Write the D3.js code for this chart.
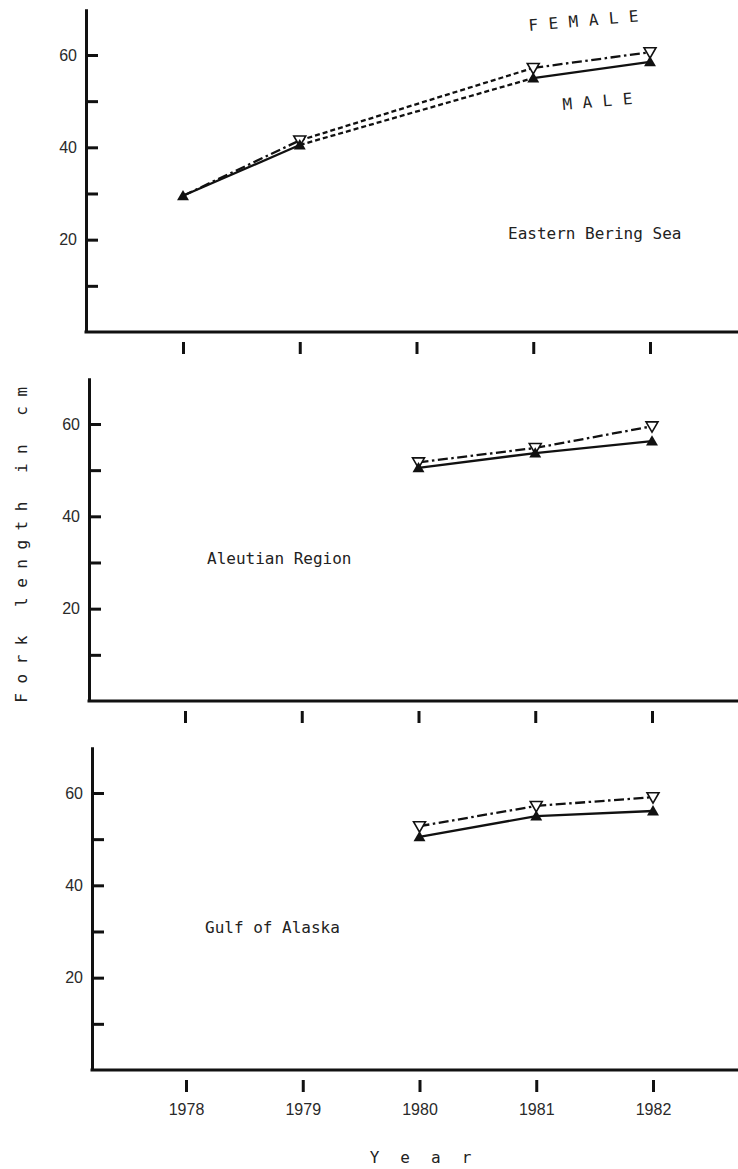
<!DOCTYPE html>
<html>
<head>
<meta charset="utf-8">
<script src="https://cdn.jsdelivr.net/npm/d3@7"></script>
<style>
  body { margin: 0; background: #fff; }
  svg { display: block; }
  .num { font-family: "Liberation Sans", Arial, sans-serif; font-size: 16px; fill: #2a2a2a; }
  .typ { font-family: "DejaVu Sans Mono", monospace; font-size: 16px; fill: #222; }
</style>
</head>
<body>
<svg id="chart" width="738" height="1169"></svg>
<script>
// data (fork length in cm)
const years = [1978, 1979, 1980, 1981, 1982];
const regionNames = ["Eastern Bering Sea", "Aleutian Region", "Gulf of Alaska"];
const femaleBering = [29.5, 41.5, null, 57.2, 60.6];
const maleBering = [29.5, 40.5, null, 55.0, 58.5];
const femaleAleutian = [null, null, 51.7, 54.8, 59.5];
const maleAleutian = [null, null, 50.5, 53.7, 56.3];
const femaleGulf = [null, null, 52.8, 57.2, 59.1];
const maleGulf = [null, null, 50.5, 55.0, 56.1];
const yTickValues = [10, 20, 30, 40, 50, 60];
const yLabelValues = [20, 40, 60];

const svg = d3.select("#chart");
const width = 738;

const panels = [
    { name: regionNames[0], female: femaleBering, male: maleBering, base: 332, left: 86, shift: 0, lx: 508, ly: 239 },
    { name: regionNames[1], female: femaleAleutian, male: maleAleutian, base: 701, left: 89, shift: 2, lx: 207, ly: 564 },
    { name: regionNames[2], female: femaleGulf, male: maleGulf, base: 1070, left: 92, shift: 3, lx: 205, ly: 933 }
];

const pxPerUnit = 4.617;

panels.forEach((p, pi) => {
    const y = d3.scaleLinear().domain([0, 70]).range([p.base, p.base - 70 * pxPerUnit]);
    const x = d3.scaleLinear().domain([1978, 1982]).range([183 + p.shift, 650 + p.shift]);
    const g = svg.append("g");

    // y axis line + inward ticks
    g.append("g")
        .attr("transform", `translate(${p.left},0)`)
        .call(d3.axisRight(y).tickValues(yTickValues).tickSize(12).tickSizeOuter(0).tickFormat(""))
        .call(a => a.selectAll("line").attr("stroke", "#111").attr("stroke-width", 3))
        .call(a => a.select(".domain").attr("stroke", "#111").attr("stroke-width", 3));

    // y labels
    g.append("g")
        .attr("transform", `translate(${p.left},0)`)
        .call(d3.axisLeft(y).tickValues(yLabelValues).tickSize(0).tickPadding(9))
        .call(a => a.select(".domain").remove())
        .call(a => a.selectAll("text").attr("class", "num").attr("font-family", null).attr("font-size", null));

    // baseline
    g.append("line")
        .attr("x1", p.left - 1.5).attr("x2", width)
        .attr("y1", y(0)).attr("y2", y(0))
        .attr("stroke", "#111").attr("stroke-width", 3);

    // x ticks hanging below the baseline
    const xa = d3.axisBottom(x).tickValues(years).tickSize(12).tickPadding(12)
        .tickFormat(pi === 2 ? d3.format("d") : () => "");
    g.append("g")
        .attr("transform", `translate(0,${y(0) + 10})`)
        .call(xa)
        .call(a => a.select(".domain").remove())
        .call(a => a.selectAll("line").attr("stroke", "#111").attr("stroke-width", 3))
        .call(a => a.selectAll("text").attr("class", "num").attr("font-family", null).attr("font-size", null));

    // lines: solid / dash-dot, dashed across missing years
    const line = d3.line().x(d => x(d.year)).y(d => y(d.v));
    function drawSeries(vals, dash) {
        const pts = years.map((yr, i) => ({ year: yr, v: vals[i] })).filter(d => d.v != null);
        for (let i = 0; i < pts.length - 1; i++) {
            const gap = pts[i + 1].year - pts[i].year > 1;
            g.append("path")
                .datum([pts[i], pts[i + 1]])
                .attr("d", line)
                .attr("fill", "none")
                .attr("stroke", "#111")
                .attr("stroke-width", 2.3)
                .attr("stroke-dasharray", gap ? "5,3" : dash);
        }
    }
    drawSeries(p.female, "10,3.5,2.5,3.5");
    drawSeries(p.male, null);

    // markers
    const tri = d3.symbol(d3.symbolTriangle, 62);
    years.forEach((yr, i) => {
        const f = p.female[i], m = p.male[i];
        if (f != null && f !== m) {
            g.append("path")
                .attr("d", tri())
                .attr("transform", `translate(${x(yr)},${y(f) - 1}) rotate(180)`)
                .attr("fill", "#fff").attr("stroke", "#111").attr("stroke-width", 1.6);
        }
        if (m != null) {
            g.append("path")
                .attr("d", tri())
                .attr("transform", `translate(${x(yr)},${y(m) + 1})`)
                .attr("fill", "#111");
        }
    });

    // region name
    g.append("text").attr("class", "typ")
        .attr("x", p.lx).attr("y", p.ly)
        .text(p.name);
});

// sex labels on top panel
svg.append("text").attr("class", "typ")
    .attr("font-size", 14).attr("letter-spacing", 10.5)
    .attr("transform", "translate(529,31) rotate(-5)")
    .text("FEMALE");
svg.append("text").attr("class", "typ")
    .attr("font-size", 14).attr("letter-spacing", 10.5)
    .attr("transform", "translate(563,110) rotate(-5)")
    .text("MALE");

// axis titles
svg.append("text").attr("class", "typ")
    .attr("font-size", 15).attr("letter-spacing", 9.5)
    .attr("text-anchor", "middle")
    .attr("transform", "translate(27,540) rotate(-90)")
    .text("Fork length in cm");

svg.append("text").attr("class", "typ")
    .attr("font-size", 15).attr("letter-spacing", 21)
    .attr("text-anchor", "middle")
    .attr("x", 431).attr("y", 1163)
    .text("Year");
</script>
</body>
</html>
